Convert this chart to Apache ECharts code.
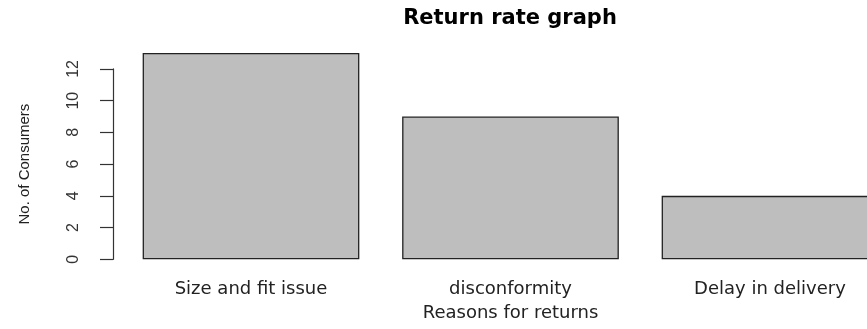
<!DOCTYPE html>
<html>
<head>
<meta charset="utf-8">
<script src="https://cdn.jsdelivr.net/npm/echarts@6/dist/echarts.min.js"></script>
<style>html,body{margin:0;padding:0;background:#fff;}#c{width:867px;height:329px;}</style>
</head>
<body>
<div id="c"></div>
<script>
const categories = ["Size and fit issue", "disconformity", "Delay in delivery"];
const consumers = [13, 9, 4];
const yTicks = [0, 2, 4, 6, 8, 10, 12];
const titleText = "Return rate graph";
const xName = "Reasons for returns";
const yName = "No. of Consumers";

const chart = echarts.init(document.getElementById('c'), null, {renderer: 'canvas'});
chart.setOption({
  backgroundColor: '#ffffff',
  animation: false,
  title: {
    text: titleText,
    left: 510, top: 8, padding: 0, textAlign: 'center',
    textStyle: {fontFamily: 'DejaVu Sans', fontWeight: 'bold', fontSize: 21, color: '#000'}
  },
  grid: {left: 121.25, width: 778.5, top: 68.9, bottom: 69.7, containLabel: false, outerBoundsMode: 'none'},
  xAxis: {
    type: 'category',
    data: categories,
    name: xName,
    nameLocation: 'middle',
    nameGap: 45,
    nameTextStyle: {fontFamily: 'DejaVu Sans', fontSize: 18, color: '#222'},
    axisLine: {show: false},
    axisTick: {show: false},
    axisLabel: {fontFamily: 'DejaVu Sans', fontSize: 18, color: '#222', margin: 21}
  },
  yAxis: {
    type: 'value',
    min: yTicks[0], max: yTicks[yTicks.length - 1], interval: 2,
    offset: 8.25,
    name: yName,
    nameLocation: 'middle',
    nameGap: 81,
    nameTextStyle: {fontFamily: 'Liberation Sans', fontSize: 15, color: '#222'},
    axisLine: {show: true, lineStyle: {color: '#333', width: 1.2}},
    axisTick: {show: true, length: 13, lineStyle: {color: '#333', width: 1.2}},
    axisLabel: {rotate: 90, fontFamily: 'Liberation Sans', fontSize: 16, color: '#333', margin: 31},
    splitLine: {show: false}
  },
  series: [{
    type: 'bar',
    data: consumers,
    clip: false,
    barCategoryGap: '16.5%',
    itemStyle: {color: '#bebebe', borderColor: '#222', borderWidth: 1.3}
  }]
});
</script>
</body>
</html>
